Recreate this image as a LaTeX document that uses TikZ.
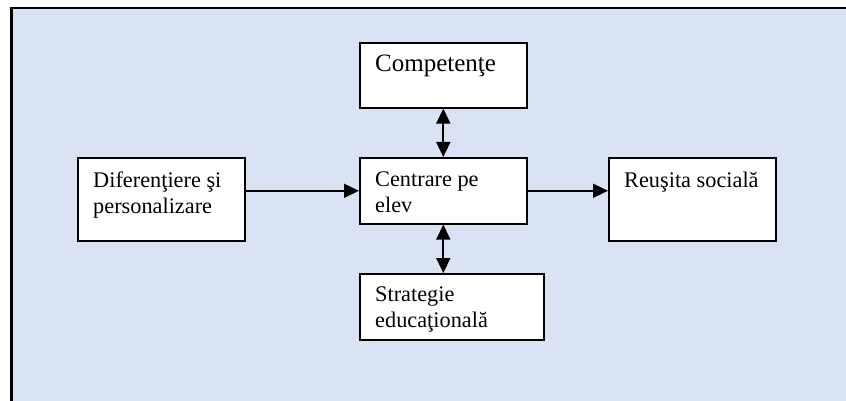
\documentclass[tikz,border=0pt]{standalone}
\usepackage{fontspec}
\setmainfont{Liberation Serif}
\usetikzlibrary{arrows.meta,calc}
\definecolor{panel}{HTML}{DAE3F3}
\tikzset{
  box/.style={draw=black, line width=1.6pt, fill=white, anchor=north west, inner sep=0pt},
  txt/.style={anchor=north west, inner sep=0pt, align=left, font=\fontsize{22.3}{25.7}\selectfont},
  bigtxt/.style={anchor=north west, inner sep=0pt, align=left, font=\fontsize{25}{29}\selectfont},
  arr/.style={line width=1.7pt, -{Triangle[length=15pt,width=14pt]}},
  darr/.style={line width=1.7pt, {Triangle[length=15pt,width=14pt]}-{Triangle[length=15pt,width=14pt]}}
}
\begin{document}
\begin{tikzpicture}[x=1pt,y=-1pt]
\useasboundingbox (0,0) rectangle (846,401);
\fill[panel] (11.5,8) rectangle (850,405);
\draw[line width=2.2pt] (11.5,405) -- (11.5,8) -- (850,8);

\node[box, minimum width=167pt, minimum height=65pt] (comp) at (359,42) {};
\node[box, minimum width=167pt, minimum height=66pt] (cen) at (359,157) {};
\node[box, minimum width=184pt, minimum height=66pt] (strat) at (359,273) {};
\node[box, minimum width=167pt, minimum height=83pt] (dif) at (77,157) {};
\node[box, minimum width=167pt, minimum height=83pt] (reu) at (608,157) {};

\node[bigtxt] (tcomp) at (375,55) {Competenţe};
\node[txt] (tcen) at (375,171.5) {Centrare pe\\elev};
\node[txt] (tstrat) at (375,286.5) {Strategie\\educaţională};
\node[txt] (tdif) at (93,171.5) {Diferenţiere şi\\personalizare};
\node[txt] (treu) at (624,171.5) {Reuşita socială};

\draw[arr] (dif.east |- cen.west) -- (cen.west);
\draw[arr] (cen.east) -- (reu.west |- cen.east);
\draw[darr] (comp.south) -- (cen.north);
\draw[darr] (cen.south) -- (cen.south |- strat.north);
\end{tikzpicture}
\end{document}
